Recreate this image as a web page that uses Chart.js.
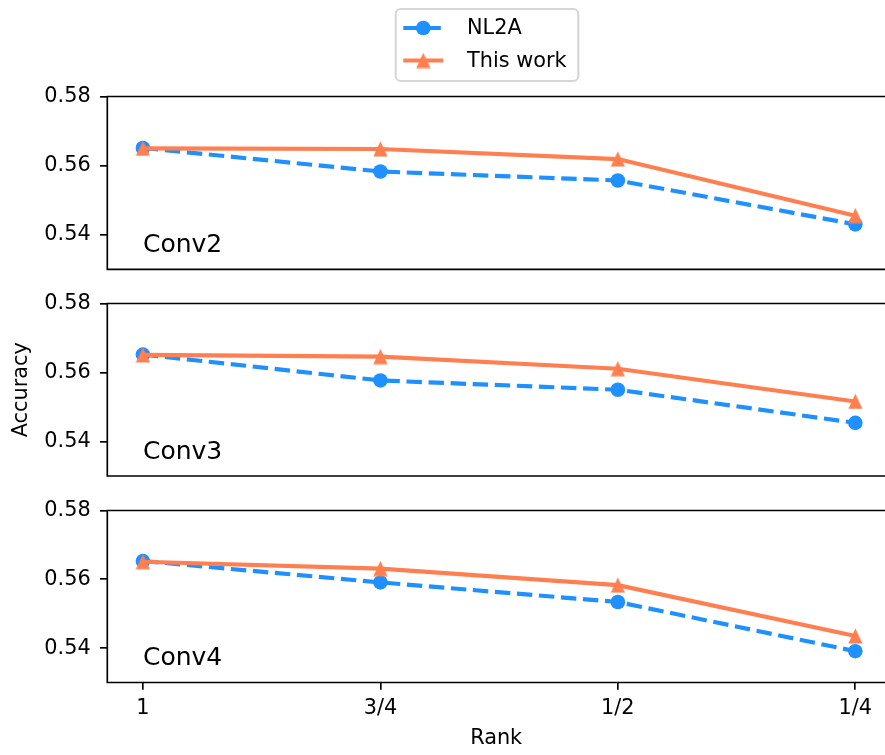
<!DOCTYPE html>
<html>
<head>
<meta charset="utf-8">
<script src="https://cdn.jsdelivr.net/npm/chart.js@4.4.1/dist/chart.umd.min.js"></script>
<style>
  html, body { margin: 0; padding: 0; background: #fff; }
  #wrap { position: relative; width: 885px; height: 755px; overflow: hidden; }
  #wrap canvas { position: absolute; left: 0; }
</style>
</head>
<body>
<div id="wrap">
  <canvas id="panel0" width="885" height="290" style="top:0px"></canvas>
  <canvas id="panel1" width="885" height="207" style="top:290px"></canvas>
  <canvas id="panel2" width="885" height="258" style="top:497px"></canvas>
</div>
<script>
/* ================================================================
   Accuracy vs rank, three stacked panels (Conv2 / Conv3 / Conv4)
   ================================================================ */
(function () {
  'use strict';

  /* ── Data ────────────────────────────────────────────────── */
  var rankLabels = ['1', '3/4', '1/2', '1/4'];
  var rankPos = [0, 1, 2, 3];
  var panelNames = ['Conv2', 'Conv3', 'Conv4'];
  var seriesNames = ['NL2A', 'This work'];
  var yTicks = [0.54, 0.56, 0.58];

  var nl2aConv2 = [0.5651, 0.5583, 0.5557, 0.5430];
  var thisConv2 = [0.5650, 0.5648, 0.5619, 0.5455];
  var nl2aConv3 = [0.5652, 0.5577, 0.5550, 0.5454];
  var thisConv3 = [0.5651, 0.5646, 0.5611, 0.5516];
  var nl2aConv4 = [0.5653, 0.5591, 0.5534, 0.5391];
  var thisConv4 = [0.5651, 0.5631, 0.5583, 0.5435];

  var nl2aSeries = [nl2aConv2, nl2aConv3, nl2aConv4];
  var thisSeries = [thisConv2, thisConv3, thisConv4];

  /* ── Style ───────────────────────────────────────────────── */
  var BLUE = '#1e90ff';
  var CORAL = '#ff7f50';
  var PT = 150 / 72;
  var LW = 2 * PT;
  var FRAME = 0.8 * PT;
  var TICK = 3.5 * PT;
  var DASH = [3.7 * LW, 1.6 * LW];
  var FS = 10 * PT;

  Chart.defaults.font.family = "'DejaVu Sans', sans-serif";
  Chart.defaults.font.size = FS;
  Chart.defaults.color = '#000';

  function triangleImage(color) {
    var c = document.createElement('canvas');
    c.width = 15; c.height = 16;
    var g = c.getContext('2d');
    g.fillStyle = color;
    g.beginPath();
    g.moveTo(7.5, 0.3);
    g.lineTo(0.4, 15.4);
    g.lineTo(14.6, 15.4);
    g.closePath();
    g.fill();
    return c;
  }
  var triImg = triangleImage(CORAL);

  function pts(vals) {
    return rankPos.map(function (x, i) { return { x: x, y: vals[i] }; });
  }

  /* ── Plugins ─────────────────────────────────────────────── */
  var framePlugin = {
    id: 'frame',
    afterDatasetsDraw: function (chart) {
      var a = chart.chartArea, ctx = chart.ctx;
      ctx.save();
      ctx.strokeStyle = '#000';
      ctx.lineWidth = FRAME;
      ctx.beginPath();
      ctx.moveTo(a.right + 2, a.top);
      ctx.lineTo(a.left, a.top);
      ctx.lineTo(a.left, a.bottom);
      ctx.lineTo(a.right + 2, a.bottom);
      ctx.stroke();
      ctx.restore();
    }
  };

  var panelTextPlugin = {
    id: 'panelText',
    afterDatasetsDraw: function (chart, args, opts) {
      if (!opts.text) return;
      var ctx = chart.ctx;
      ctx.save();
      ctx.font = (12 * PT) + "px 'DejaVu Sans', sans-serif";
      ctx.fillStyle = '#000';
      ctx.textBaseline = 'alphabetic';
      ctx.textAlign = 'left';
      ctx.fillText(opts.text, chart.scales.x.getPixelForValue(opts.x), chart.scales.y.getPixelForValue(opts.y));
      ctx.restore();
    }
  };

  var boxLegendPlugin = {
    id: 'boxLegend',
    afterDraw: function (chart, args, opts) {
      if (!opts.show) return;
      var ctx = chart.ctx;
      var b = opts.box;
      ctx.save();
      ctx.beginPath();
      ctx.roundRect(b.left, b.top, b.right - b.left, b.bottom - b.top, 5);
      ctx.fillStyle = 'rgba(255,255,255,0.8)';
      ctx.fill();
      ctx.strokeStyle = 'rgba(204,204,204,0.8)';
      ctx.lineWidth = PT;
      ctx.stroke();

      chart.data.datasets.forEach(function (ds, i) {
        var y = opts.rows[i];
        var x0 = opts.handleX, x1 = opts.handleX + opts.handleLen, xm = (x0 + x1) / 2;
        ctx.beginPath();
        ctx.setLineDash(ds.borderDash || []);
        ctx.strokeStyle = ds.borderColor;
        ctx.lineWidth = ds.borderWidth;
        ctx.moveTo(x0, y);
        ctx.lineTo(x1, y);
        ctx.stroke();
        ctx.setLineDash([]);
        if (ds.pointStyle === 'circle') {
          ctx.beginPath();
          ctx.fillStyle = ds.backgroundColor;
          ctx.arc(xm, y, ds.pointRadius, 0, Math.PI * 2);
          ctx.fill();
        } else {
          ctx.drawImage(ds.pointStyle, xm - ds.pointStyle.width / 2, y - ds.pointStyle.height / 2);
        }
        ctx.fillStyle = '#000';
        ctx.font = FS + "px 'DejaVu Sans', sans-serif";
        ctx.textBaseline = 'middle';
        ctx.textAlign = 'left';
        ctx.fillText(ds.label, opts.textX, y + 1);
      });
      ctx.restore();
    }
  };

  /* ── Panels ──────────────────────────────────────────────── */
  var layouts = [
    { top: 96.5, bottom: 20.7 },
    { top: 13.5, bottom: 21 },
    { top: 13.5, bottom: 0 }
  ];

  function noScalePad(s) {
    s.paddingTop = 0; s.paddingBottom = 0; s.paddingLeft = 0; s.paddingRight = 0;
  }

  function buildPanel(idx) {
    var last = idx === panelNames.length - 1;
    var cfg = {
      type: 'line',
      data: {
        datasets: [
          {
            label: seriesNames[0],
            data: pts(nl2aSeries[idx]),
            borderColor: BLUE,
            backgroundColor: BLUE,
            borderWidth: LW,
            borderDash: DASH,
            pointStyle: 'circle',
            pointRadius: 7.3,
            pointBorderWidth: 0,
            pointHoverRadius: 7.3,
            tension: 0,
            fill: false,
            clip: false,
            order: 1
          },
          {
            label: seriesNames[1],
            data: pts(thisSeries[idx]),
            borderColor: CORAL,
            backgroundColor: CORAL,
            borderWidth: LW,
            pointStyle: triImg,
            pointRadius: 8,
            pointBorderWidth: 0,
            tension: 0,
            fill: false,
            clip: false,
            order: 0
          }
        ]
      },
      options: {
        responsive: false,
        animation: false,
        events: [],
        layout: {
          autoPadding: false,
          padding: { top: layouts[idx].top, bottom: layouts[idx].bottom, left: 0, right: 0 }
        },
        plugins: {
          legend: { display: false },
          tooltip: { enabled: false },
          panelText: { text: panelNames[idx], x: 0, y: 0.535 },
          boxLegend: {
            show: idx === 0,
            box: { left: 395.7, top: 9, right: 578.3, bottom: 81 },
            rows: [28, 60.5],
            handleX: 403.3,
            handleLen: 40,
            textX: 467
          }
        },
        scales: {
          x: {
            type: 'linear',
            min: -0.15,
            max: 3.125,
            display: last,
            afterBuildTicks: function (s) { s.ticks = rankPos.map(function (v) { return { value: v }; }); },
            afterFit: function (s) { noScalePad(s); if (last) s.height = 72.5; },
            border: { display: false },
            grid: { drawOnChartArea: false, drawTicks: true, tickLength: TICK, color: '#000', lineWidth: FRAME },
            ticks: {
              padding: 6,
              maxRotation: 0,
              autoSkip: false,
              callback: function (v) { return rankLabels[rankPos.indexOf(v)]; }
            },
            title: { display: true, text: 'Rank', padding: { top: 0, bottom: 4 } }
          },
          y: {
            min: 0.53,
            max: 0.58,
            afterBuildTicks: function (s) { s.ticks = yTicks.map(function (v) { return { value: v }; }); },
            afterFit: function (s) { noScalePad(s); s.width = 107.3; },
            border: { display: false },
            grid: { drawOnChartArea: false, drawTicks: true, tickLength: TICK, color: '#000', lineWidth: FRAME },
            ticks: { padding: 9.3, callback: function (v) { return v.toFixed(2); } },
            title: {
              display: idx === 1,
              text: 'Accuracy',
              padding: { top: 9, bottom: 0 }
            }
          }
        }
      },
      plugins: [framePlugin, panelTextPlugin, boxLegendPlugin]
    };
    return new Chart(document.getElementById('panel' + idx), cfg);
  }

  panelNames.forEach(function (name, i) { buildPanel(i); });
})();
</script>
</body>
</html>
